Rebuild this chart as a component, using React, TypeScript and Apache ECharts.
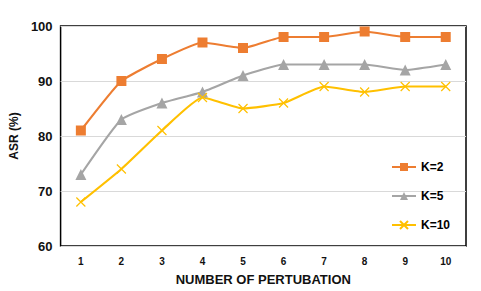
import React, { useEffect, useRef } from "react";
import * as echarts from "echarts";

const categories = ["1", "2", "3", "4", "5", "6", "7", "8", "9", "10"];
const k2 = [81, 90, 94, 97, 96, 98, 98, 99, 98, 98];
const k5 = [73, 83, 86, 88, 91, 93, 93, 93, 92, 93];
const k10 = [68, 74, 81, 87, 85, 86, 89, 88, 89, 89];
const seriesNames = ["K=2", "K=5", "K=10"];

const FONT = "Arial, 'Liberation Sans', sans-serif";

export default function App() {
  const ref = useRef<HTMLDivElement>(null);
  useEffect(() => {
    const chart = echarts.init(ref.current!, null, { renderer: "svg" });
    chart.setOption({
      animation: false,
      backgroundColor: "#fff",
      grid: {
        left: 60,
        top: 26,
        right: 15,
        bottom: 45,
        show: true,
        borderColor: "#000",
        borderWidth: 1.5,
      },
      legend: {
        orient: "vertical",
        left: 386,
        top: 156,
        itemWidth: 24,
        itemHeight: 10,
        itemGap: 17,
        data: seriesNames,
        textStyle: { fontFamily: FONT, fontWeight: "bold", fontSize: 12, color: "#000" },
      },
      xAxis: {
        type: "category",
        data: categories,
        boundaryGap: true,
        axisLine: { show: false },
        axisTick: { show: false },
        axisLabel: {
          fontFamily: FONT,
          fontWeight: "bold",
          fontSize: 10,
          color: "#111",
          margin: 10,
        },
        name: "NUMBER OF PERTUBATION",
        nameLocation: "middle",
        nameGap: 27,
        nameTextStyle: { fontFamily: FONT, fontWeight: "bold", fontSize: 13, color: "#111" },
      },
      yAxis: {
        type: "value",
        min: 60,
        max: 100,
        interval: 10,
        axisLine: { show: false },
        axisTick: { show: false },
        splitLine: { lineStyle: { color: "#d9d9d9", width: 1 } },
        axisLabel: {
          fontFamily: FONT,
          fontWeight: "bold",
          fontSize: 13,
          color: "#111",
          margin: 8,
        },
        name: "ASR (%)",
        nameLocation: "middle",
        nameGap: 30,
        nameTextStyle: { fontFamily: FONT, fontWeight: "bold", fontSize: 12, color: "#111" },
      },
      series: [
        {
          name: seriesNames[0],
          type: "line",
          data: k2,
          smooth: 0.15,
          symbol: "rect",
          symbolSize: 10,
          lineStyle: { color: "#ED7D31", width: 2.2 },
          itemStyle: { color: "#ED7D31" },
        },
        {
          name: seriesNames[1],
          type: "line",
          data: k5,
          smooth: 0.15,
          symbol: "triangle",
          symbolSize: 11,
          lineStyle: { color: "#A5A5A5", width: 2.2 },
          itemStyle: { color: "#A5A5A5" },
        },
        {
          name: seriesNames[2],
          type: "line",
          data: k10,
          smooth: 0.15,
          symbol: "path://M0,0L10,10M10,0L0,10",
          symbolSize: 9,
          lineStyle: { color: "#FFC000", width: 2.2 },
          itemStyle: { color: "#FFC000", borderColor: "#FFC000", borderWidth: 1.2 },
        },
      ],
    });
    return () => chart.dispose();
  }, []);
  return (
    <div
      ref={ref}
      style={{ position: "fixed", left: 0, top: 0, width: 481, height: 291 }}
    />
  );
}
